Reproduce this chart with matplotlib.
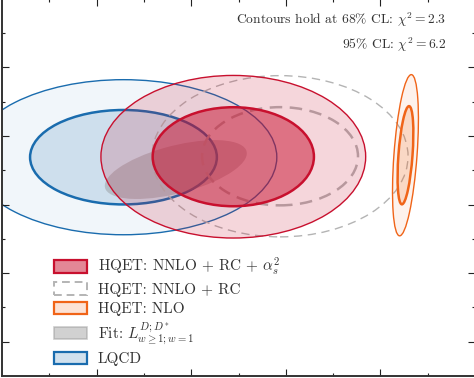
import numpy as np
import matplotlib
matplotlib.use("Agg")
import matplotlib.pyplot as plt
from matplotlib.patches import Ellipse, Patch
from matplotlib.ticker import FixedLocator

plt.rcParams['font.family'] = 'serif'
plt.rcParams['font.serif'] = ['cmr10']
plt.rcParams['mathtext.fontset'] = 'cm'
plt.rcParams['axes.unicode_minus'] = False

# contour levels (chi^2 for 2 dof)
chi2_68 = 2.3
chi2_95 = 6.2

# each result: centre (x, y), sigma_x, sigma_y, correlation
names = ['LQCD', 'Fit', 'NNLO+RC', 'NNLO+RC+as2', 'NLO']
cx = [1.284, 1.837, 2.939, 2.445, 4.265]
cy = [3.190, 3.010, 3.204, 3.197, 3.219]
sx = [0.651, 0.495, 0.5435, 0.562, 0.055]
sy = [0.454, 0.283, 0.472, 0.476, 0.472]
rho = [0.0, 0.55, 0.0, 0.0, 0.45]

legend_labels = [r'HQET: NNLO + RC + $\alpha_s^2$',
                 r'HQET: NNLO + RC',
                 r'HQET: NLO',
                 r'Fit: $L^{D;D^*}_{w\geq1;w=1}$',
                 r'LQCD']


def ellipse(i, chi2, **kw):
    cov = np.array([[sx[i]**2, rho[i]*sx[i]*sy[i]],
                    [rho[i]*sx[i]*sy[i], sy[i]**2]])
    vals, vecs = np.linalg.eigh(cov)
    ang = np.degrees(np.arctan2(vecs[1, 1], vecs[0, 1]))
    w = 2*np.sqrt(chi2*vals[1])
    h = 2*np.sqrt(chi2*vals[0])
    return Ellipse((cx[i], cy[i]), w, h, angle=ang, **kw)


blue = '#1a6cae'
red = '#c8102e'
orange = '#f06418'
grey = '#b4b4b4'

fig = plt.figure(figsize=(4.74, 3.78), dpi=100)
ax = fig.add_axes([2/474, 2/378, 473/474, 377.5/378])

# LQCD
ax.add_patch(ellipse(0, chi2_95, facecolor=blue, alpha=0.06, lw=0, zorder=1))
ax.add_patch(ellipse(0, chi2_68, facecolor=blue, alpha=0.16, lw=0, zorder=1))
ax.add_patch(ellipse(0, chi2_95, facecolor='none', edgecolor=blue, lw=1.0, zorder=1.5))
ax.add_patch(ellipse(0, chi2_68, facecolor='none', edgecolor=blue, lw=1.8, zorder=1.5))

# fit
ax.add_patch(ellipse(1, chi2_68, facecolor='#8c8c8c', alpha=0.4, lw=0, zorder=2))

# NNLO + RC (dashed)
ax.add_patch(ellipse(2, chi2_95, facecolor='none', edgecolor=grey, lw=1.0,
                     ls=(0, (6, 4)), zorder=2.5))
ax.add_patch(ellipse(2, chi2_68, facecolor='none', edgecolor=grey, lw=1.8,
                     ls=(0, (5, 3)), zorder=2.5))

# NNLO + RC + alpha_s^2
ax.add_patch(ellipse(3, chi2_95, facecolor=red, alpha=0.17, lw=0, zorder=3))
ax.add_patch(ellipse(3, chi2_68, facecolor=red, alpha=0.5, lw=0, zorder=3))
ax.add_patch(ellipse(3, chi2_95, facecolor='none', edgecolor=red, lw=1.0, zorder=3.5))
ax.add_patch(ellipse(3, chi2_68, facecolor='none', edgecolor=red, lw=1.8, zorder=3.5))

# NLO
ax.add_patch(ellipse(4, chi2_95, facecolor=orange, alpha=0.08, lw=0, zorder=4))
ax.add_patch(ellipse(4, chi2_68, facecolor=orange, alpha=0.18, lw=0, zorder=4))
ax.add_patch(ellipse(4, chi2_95, facecolor='none', edgecolor=orange, lw=1.0, zorder=4.5))
ax.add_patch(ellipse(4, chi2_68, facecolor='none', edgecolor=orange, lw=1.8, zorder=4.5))

ax.set_xlim(0, 5.0)
ax.set_ylim(0, 5.504)
ax.xaxis.set_major_locator(FixedLocator(np.arange(1, 5)))
ax.xaxis.set_minor_locator(FixedLocator(np.arange(0.5, 5, 1)))
ax.yaxis.set_major_locator(FixedLocator(np.arange(0.5, 5.5, 1)))
ax.yaxis.set_minor_locator(FixedLocator(np.arange(1, 6, 1)))
ax.tick_params(which='both', direction='in', top=True, right=True,
               labelbottom=False, labelleft=False, width=0.8, color='#222222')
ax.tick_params(which='major', length=5)
ax.tick_params(which='minor', length=2.5)
for s in ax.spines.values():
    s.set_linewidth(1.4)
    s.set_color('#333333')

ax.text(0.94, 0.945, r'Contours hold at 68% CL: $\chi^2 = 2.3$', transform=ax.transAxes,
        ha='right', va='center', fontsize=9.75, color='#333333')
ax.text(0.94, 0.878, r'95% CL: $\chi^2 = 6.2$', transform=ax.transAxes,
        ha='right', va='center', fontsize=9.75, color='#333333')

handles = [
    Patch(facecolor=(0.784, 0.063, 0.18, 0.5), edgecolor=red, lw=1.6),
    Patch(facecolor='white', edgecolor=grey, lw=1.4, ls=(0, (4, 2.5))),
    Patch(facecolor=(0.94, 0.39, 0.094, 0.18), edgecolor=orange, lw=1.6),
    Patch(facecolor=(0.55, 0.55, 0.55, 0.4), edgecolor=(0.6, 0.6, 0.6, 0.5), lw=1.2),
    Patch(facecolor=(0.1, 0.42, 0.68, 0.2), edgecolor=blue, lw=1.6),
]
leg = ax.legend(handles, legend_labels, loc='lower left', bbox_to_anchor=(0.088, 0.0),
                frameon=False, fontsize=11, handlelength=2.16, handleheight=0.87,
                labelspacing=0.3, handletextpad=0.75, borderaxespad=0.25)
for t in leg.get_texts():
    t.set_color('#333333')

fig.savefig('out.png', dpi=100)
